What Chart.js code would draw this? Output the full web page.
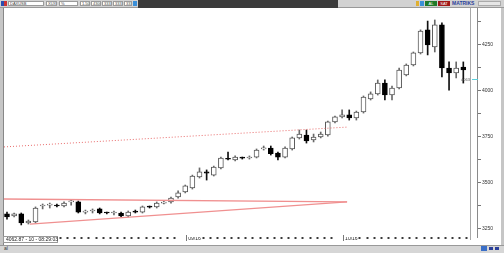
<!DOCTYPE html>
<html><head><meta charset="utf-8">
<script src="https://cdn.jsdelivr.net/npm/chart.js@4/dist/chart.umd.min.js"></script>
<style>
html,body{margin:0;padding:0;width:504px;height:253px;overflow:hidden;background:#c6c6c6;font-family:"Liberation Sans",Arial,sans-serif;}
#wrap{position:relative;width:504px;height:253px;}
.a{position:absolute;box-sizing:border-box;}
.fld{position:absolute;top:1px;height:5px;background:#fff;border:1px solid #9a9a9a;font-size:4px;line-height:4px;color:#444;padding-left:1px;white-space:nowrap;overflow:hidden;box-sizing:border-box;}
canvas{position:absolute;left:0;top:0;}
</style></head><body>
<div id="wrap">
  <div class="a" style="left:0;top:0;width:504px;height:8px;background:#d2d2d2;border-bottom:1px solid #999"></div>
  <div class="a" style="left:1px;top:1px;width:3px;height:5px;background:#2a4fb0"></div>
  <div class="a" style="left:4px;top:1px;width:3px;height:5px;background:#c33"></div>
  <div class="fld" style="left:8px;width:36px">DAXUSB</div>
  <div class="fld" style="left:46px;width:11px">XUX</div>
  <div class="fld" style="left:59px;width:19px">%</div>
  <div class="fld" style="left:80px;width:10px">1.50</div>
  <div class="fld" style="left:91px;width:10px">4300</div>
  <div class="fld" style="left:102px;width:10px">3333</div>
  <div class="fld" style="left:113px;width:10px">3333</div>
  <div class="fld" style="left:124px;width:8px">3333</div>
  <div class="a" style="left:133px;top:1px;width:4px;height:5px;background:#3a8fd8"></div>
  <div class="a" style="left:138px;top:0;width:200px;height:8px;background:#3b3b3b"></div>
  <div class="a" style="left:416px;top:1px;width:3px;height:5px;background:#e0b030"></div>
  <div class="a" style="left:420px;top:1px;width:4px;height:5px;background:#3a8fd8"></div>
  <div class="a" style="left:425px;top:1px;width:12px;height:5px;background:#1f7a2a;color:#fff;font-size:4px;line-height:5px;text-align:center">AL</div>
  <div class="a" style="left:438px;top:1px;width:12px;height:5px;background:#a01818;color:#fff;font-size:4px;line-height:5px;text-align:center">SAT</div>
  <div class="a" style="left:452px;top:1px;width:24px;height:5px;color:#2a3f9a;font-size:5px;line-height:5px;font-weight:bold">MATRIKS</div>
  <div class="a" style="left:478px;top:1px;width:23px;height:5px;background:#e6e6e6;border:1px solid #aaa;color:#999;font-size:4px;line-height:4px">&nbsp;</div>
  <div class="a" style="left:3px;top:8px;width:498px;height:237px;background:#fff;border-left:1px solid #888"></div>
  <div class="a" style="left:0;top:245px;width:504px;height:8px;background:#d6d6d6;border-top:1px solid #999"></div>
  <div class="a" style="left:4px;top:246px;font-size:5px;line-height:5px;color:#333">al</div>
  <div class="a" style="left:481px;top:246px;width:6px;height:5px;background:#3a6fc8"></div>
  <div class="a" style="left:489px;top:247px;width:4px;height:3px;background:#2a3f9a"></div>
  <div class="a" style="left:495px;top:247px;width:4px;height:3px;background:#2a3f9a"></div>
  <canvas id="c" width="504" height="253"></canvas>
  <div class="a" style="left:3px;top:236px;width:55px;height:7px;background:#fff;border:1px solid #999;font-size:5px;line-height:5px;color:#222;padding-left:2px;white-space:nowrap">4062.87 - 10 - 08:29:03</div>
</div>
<script>
// ---- data ----
const opens  = [3332,3321,3332,3283,3288,3375,3380,3380,3375,3397,3397,3342,3348,3359,3338,3337,3337,3321,3348,3342,3371,3370,3391,3397,3424,3451,3473,3533,3560,3543,3582,3631,3625,3637,3636,3641,3685,3690,3663,3641,3685,3745,3761,3734,3750,3761,3832,3859,3870,3853,3886,3957,3984,4043,3978,4016,4087,4141,4207,4332,4239,4359,4125,4098,4130];
const highs  = [3342,3337,3337,3299,3370,3386,3391,3386,3397,3408,3402,3353,3359,3364,3342,3348,3342,3348,3353,3375,3375,3397,3402,3424,3457,3489,3543,3582,3571,3592,3641,3668,3647,3641,3647,3685,3701,3701,3668,3696,3750,3788,3788,3766,3777,3837,3864,3897,3897,3891,3973,3995,4060,4060,4027,4125,4147,4212,4332,4380,4386,4370,4158,4158,4158];
const lows   = [3304,3315,3272,3277,3283,3359,3364,3370,3370,3380,3337,3332,3337,3332,3332,3326,3315,3315,3337,3337,3364,3364,3386,3391,3418,3446,3467,3527,3516,3538,3576,3625,3620,3630,3630,3636,3679,3652,3625,3636,3679,3739,3717,3723,3745,3755,3826,3853,3842,3842,3880,3951,3978,3951,3951,4011,4082,4136,4201,4196,4212,4076,4005,4071,4043];
const closes = [3315,3332,3283,3293,3364,3376,3381,3375,3391,3398,3342,3343,3349,3337,3337,3338,3321,3342,3342,3370,3369,3391,3392,3418,3446,3484,3538,3560,3554,3587,3636,3629,3641,3635,3637,3679,3686,3660,3641,3690,3745,3766,3728,3750,3766,3832,3859,3870,3853,3886,3967,3984,4043,3978,4016,4114,4141,4207,4326,4250,4359,4125,4098,4125,4114];
const dateTickIdx   = [25, 47];
const dateTickText  = ['09/16', '10/16'];
const priceTicks    = [3250,3375,3500,3625,3750,3875,4000,4125,4250,4375];
const priceLabels   = ['3250','','3500','','3750','','4000','','4250',''];
const lastPrice = 4062.87;
const lastPriceText = '4063';
// trend lines drawn on the chart (x = bar index, y = price)
const dottedX = [-0.42, 47.8], dottedY = [3696, 3804];
const upperX  = [-0.42, 47.7], upperY  = [3413, 3397];
const lowerX  = [3.2, 47.7],   lowerY  = [3277, 3397];

const up = closes.map((c,i)=>c>=opens[i]);
const bodies = opens.map((o,i)=>({x:i, y:[o, closes[i]]}));
const wicks  = lows.map((l,i)=>({x:i, y:[l, highs[i]]}));
const pts = (xs,ys)=>xs.map((x,i)=>({x, y:ys[i]}));
const hiddenDot = v => dateTickIdx.some(d => v>=d && v<=d+2);

const decor = {
  id:'decor',
  afterDraw(chart){
    const ctx = chart.ctx, a = chart.chartArea, ys = chart.scales.y, xs = chart.scales.x;
    ctx.save();
    ctx.strokeStyle = '#a8a8a8'; ctx.lineWidth = 1;
    ctx.beginPath(); ctx.moveTo(a.right-6.5, 8); ctx.lineTo(a.right-6.5, a.bottom+3); ctx.stroke();
    ctx.strokeStyle = '#777';
    dateTickIdx.forEach(i=>{ const x = Math.round(xs.getPixelForValue(i)) + 1.5; ctx.beginPath(); ctx.moveTo(x, a.bottom-2); ctx.lineTo(x, a.bottom+4); ctx.stroke(); });
    const y = Math.round(ys.getPixelForValue(lastPrice)) + 0.5;
    ctx.strokeStyle = '#5cd0dc';
    ctx.beginPath(); ctx.moveTo(a.right-5, y); ctx.lineTo(a.right+1, y); ctx.stroke();
    ctx.fillStyle = '#555'; ctx.font = '4px "Liberation Sans", Arial'; ctx.textAlign = 'right'; ctx.textBaseline = 'middle';
    ctx.fillText(lastPriceText, a.right-7, y);
    ctx.restore();
  }
};

new Chart(document.getElementById('c'), {
  data: {
    datasets: [
      {type:'line', data:pts(dottedX,dottedY), borderColor:'#e86a6a', borderWidth:1, borderDash:[1,2], pointRadius:0, order:0},
      {type:'line', data:pts(upperX,upperY), borderColor:'#f09090', borderWidth:1.3, pointRadius:0, order:0},
      {type:'line', data:pts(lowerX,lowerY), borderColor:'#f09090', borderWidth:1.3, pointRadius:0, order:0},
      {type:'bar', data:bodies, grouped:false, barThickness:5, minBarLength:1,
        backgroundColor: up.map(u=>u?'#ffffff':'#000000'),
        borderColor: up.map(u=>u?'#5a5a5a':'#000000'),
        borderWidth:1, borderSkipped:false, order:1},
      {type:'bar', data:wicks, grouped:false, barThickness:1,
        backgroundColor: up.map(u=>u?'#6a6a6a':'#111111'), borderWidth:0, order:2}
    ]
  },
  options: {
    responsive:false, animation:false, devicePixelRatio:1,
    layout:{padding:{left:4, top:8, right:4, bottom:9}},
    plugins:{legend:{display:false}, tooltip:{enabled:false}},
    scales:{
      x:{type:'linear', min:-0.42, max:65.92, offset:false,
        border:{display:false},
        grid:{drawOnChartArea:false, tickLength:2, tickWidth:2,
          tickColor: c => (c.tick && hiddenDot(c.tick.value)) ? 'rgba(0,0,0,0)' : '#3a3a3a'},
        afterBuildTicks:s=>{ s.ticks = s.ticks.filter(t=>Number.isInteger(t.value) && t.value>=0 && t.value<=65); },
        afterFit:s=>{ s.height = 7; },
        ticks:{stepSize:1, autoSkip:false, maxRotation:0, align:'start', padding:-3, labelOffset:3,
          color:'#222', font:{size:5, family:'"Liberation Sans", Arial'},
          callback:v=>{ const k = dateTickIdx.indexOf(v); return k>=0 ? dateTickText[k] : ''; }}
      },
      y:{type:'linear', position:'right', min:3206.5, max:4451,
        border:{display:true, color:'#8a8a8a', width:1},
        grid:{drawOnChartArea:false, tickLength:4, tickColor:'#777'},
        afterBuildTicks:s=>{ s.ticks = priceTicks.map(v=>({value:v})); },
        afterFit:s=>{ s.width = 23; },
        ticks:{autoSkip:false, padding:1, color:'#333', font:{size:5, family:'"Liberation Sans", Arial'},
          callback:(v,i)=>{ const k = priceTicks.indexOf(v); return k>=0 ? priceLabels[k] : ''; }}
      }
    }
  },
  plugins:[decor]
});
</script>
</body></html>
